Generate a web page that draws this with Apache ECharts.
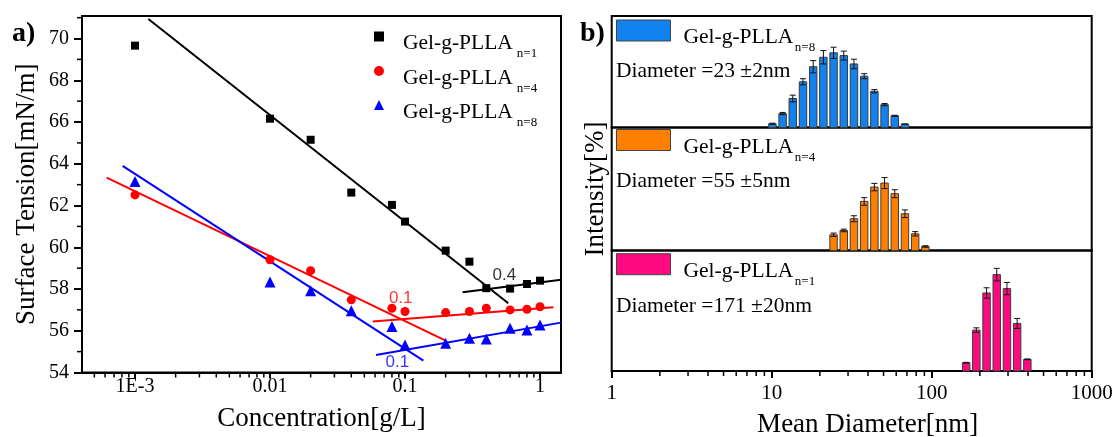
<!DOCTYPE html>
<html><head><meta charset="utf-8">
<script src="https://cdn.jsdelivr.net/npm/echarts@6/dist/echarts.min.js"></script>
<style>html,body{margin:0;padding:0;background:#fff}#c{width:1115px;height:437px}</style>
</head><body><div id="c"></div><script>
// ---------- Panel a) surface tension ----------
const CONC = [0.001, 0.01, 0.02, 0.04, 0.08, 0.1, 0.2, 0.3, 0.4, 0.6, 0.8, 1];
const ST_N1 = [69.66, 66.16, 65.15, 62.62, 62.03, 61.23, 59.84, 59.31, 58.04, 58.02, 58.24, 58.4];
const ST_N4 = [62.51, 59.4, 58.88, 57.48, 57.08, 56.92, 56.87, 56.92, 57.08, 57.0, 57.03, 57.15];
const ST_N8 = [63.15, 58.33, 57.92, 56.96, 56.2, 55.32, 55.4, 55.64, 55.6, 56.12, 56.04, 56.28];
const FIT_N1_A = [[1.256e-3, 70.94], [0.582, 57.32]];
const FIT_N1_B = [[0.267, 57.85], [1.43, 58.44]];
const FIT_N4_A = [[6.17e-4, 63.34], [0.2, 55.53]];
const FIT_N4_B = [[0.0577, 56.44], [1.256, 57.13]];
const FIT_N8_A = [[8.1e-4, 63.9], [0.1368, 54.57]];
const FIT_N8_B = [[0.061, 54.84], [1.43, 56.39]];
const ANNOT_POS = [[0.545, 58.68], [0.0929, 57.56], [0.0877, 54.47]];
const ANNOT_TEXT = ['0.4', '0.1', '0.1'];
const X_MIN = 4.05e-4, X_MAX = 1.43;
const X_MAJOR = [0.001, 0.01, 0.1, 1];
const X_LABELS = ['1E-3', '0.01', '0.1', '1'];
const Y_MIN = 54, Y_MAX = 71.08;
const Y_MAJOR = [54, 56, 58, 60, 62, 64, 66, 68, 70];
const Y_MINOR = [55, 57, 59, 61, 63, 65, 67, 69, 71];
const NAMES_A = ['Gel-g-PLLA n=1', 'Gel-g-PLLA n=4', 'Gel-g-PLLA n=8'];

// ---------- Panel b) DLS size distribution ----------
const BINS_N8 = [10.1, 11.7, 13.54, 15.69, 18.17, 21.04, 24.36, 28.21, 32.67, 37.84, 43.82, 50.75, 58.77, 68.06];
const INT_N8 = [0.67, 2.5, 5.2, 8.2, 10.9, 12.6, 13.4, 12.9, 11.4, 9.2, 6.5, 4.1, 2.1, 0.6];
const ERR_N8 = [0.1, 0.2, 0.6, 0.55, 1.1, 1.2, 1.0, 0.8, 0.85, 0.45, 0.3, 0.2, 0.1, 0];
const BINS_N4 = [24.36, 28.21, 32.67, 37.84, 43.82, 50.75, 58.77, 68.06, 78.82, 91.28];
const INT_N4 = [4.35, 5.54, 8.78, 13.57, 17.53, 18.64, 15.7, 10.16, 4.62, 1.11];
const ERR_N4 = [0.47, 0.36, 0.83, 1.05, 1.02, 1.52, 1.1, 1.05, 0.6, 0.2];
const BINS_N1 = [164.2, 190.1, 220.2, 255.0, 295.3, 342.0, 396.1];
const INT_N1 = [2.27, 11.19, 21.37, 26.39, 22.57, 13.02, 3.19];
const ERR_N1 = [0.1, 0.63, 1.42, 1.72, 1.69, 1.37, 0.1];
const PANEL_YMAX = [20, 34, 33];
const NAMES_B = ['DLS Gel-g-PLLA n=8', 'DLS Gel-g-PLLA n=4', 'DLS Gel-g-PLLA n=1'];
const DIAM_TEXT = ['Diameter =23 \u00b12nm', 'Diameter =55 \u00b15nm', 'Diameter =171 \u00b120nm'];
const D_MIN = 1, D_MAX = 1000;
const D_MAJOR = [1, 10, 100, 1000];
const D_LABELS = ['1', '10', '100', '1000'];

function minorLog(lo, hi) {
  const out = [];
  for (let d = Math.floor(Math.log10(lo)); d < Math.ceil(Math.log10(hi)); d++) {
    for (let k = 2; k <= 9; k++) { const v = k * Math.pow(10, d); if (v > lo && v < hi) out.push(+v.toPrecision(6)); }
  }
  return out;
}
const X_MINOR = minorLog(X_MIN, X_MAX);
const D_MINOR = minorLog(D_MIN, D_MAX);

const SERIF = 'Liberation Serif', SANS = 'Liberation Sans';
const BAR_F = 1.055;
const MINOR_LEN = 5;

function richFor(padL, subPad) {
  return {
    m: { fontFamily: SERIF, fontSize: 21.5, color: '#000', lineHeight: 22, padding: [7, 0, 0, padL], verticalAlign: 'top' },
    s: { fontFamily: SERIF, fontSize: 13, color: '#000', lineHeight: 14, padding: [22, 0, 0, subPad], verticalAlign: 'top' }
  };
}
function legendFmt(name) {
  const parts = name.replace(/^DLS /, '').split(' ');
  return '{m|' + parts[0] + '}{s|' + parts[1] + '}';
}
function pickLabel(ticks, labels) {
  return v => labels[ticks.findIndex(t => Math.abs(Math.log10(t / v)) < 1e-6)];
}

function barItem(params, api) {
  const x = api.value(0), y = api.value(1), e = api.value(2);
  const p0 = api.coord([x / BAR_F, 0]);
  const p1 = api.coord([x * BAR_F, y]);
  const cx = api.coord([x, y])[0];
  const hi = api.coord([x, y + e])[1], lo = api.coord([x, Math.max(0, y - e)])[1];
  const st = api.style();
  return { type: 'group', children: [
    { type: 'rect', shape: { x: p0[0], y: p1[1], width: p1[0] - p0[0], height: p0[1] - p1[1] },
      style: { fill: st.fill, stroke: '#3c3c3c', lineWidth: 1 } },
    { type: 'line', shape: { x1: cx, y1: hi, x2: cx, y2: lo }, style: { stroke: '#111', lineWidth: 1 } },
    { type: 'line', shape: { x1: cx - 3, y1: hi, x2: cx + 3, y2: hi }, style: { stroke: '#111', lineWidth: 1 } },
    { type: 'line', shape: { x1: cx - 3, y1: lo, x2: cx + 3, y2: lo }, style: { stroke: '#111', lineWidth: 1 } }
  ]};
}
// minor tick marks: each item is [x, y] on the axis line, drawn through the axis scales
function xMinorTick(params, api) {
  const p = api.coord([api.value(0), api.value(1)]);
  return { type: 'rect', shape: { x: p[0] - 0.75, y: p[1], width: 1.5, height: MINOR_LEN },
    style: { fill: '#000' } };
}
function yMinorTick(params, api) {
  const p = api.coord([api.value(0), api.value(1)]);
  return { type: 'rect', shape: { x: p[0] - MINOR_LEN, y: p[1] - 0.75, width: MINOR_LEN, height: 1.5 },
    style: { fill: '#000' } };
}

const chart = echarts.init(document.getElementById('c'), null, { renderer: 'canvas' });
const gridBase = { show: true, borderColor: '#000', borderWidth: 2, backgroundColor: 'transparent', outerBoundsMode: 'none', containLabel: false };
const PANEL_TOPS = [16, 127.5, 250.5];
const PANEL_H = [111.5, 123, 120.5];
const nameStyle = { fontFamily: SERIF, fontSize: 27, color: '#000' };
const hiddenX = (gi) => ({ gridIndex: gi, type: 'log', min: D_MIN, max: D_MAX, show: false });

const option = {
  animation: false,
  backgroundColor: '#fff',
  grid: [
    Object.assign({ left: 82, top: 16, width: 479, height: 356.5 }, gridBase),
    Object.assign({ left: 611.7, top: PANEL_TOPS[0], width: 480, height: PANEL_H[0] }, gridBase),
    Object.assign({ left: 611.7, top: PANEL_TOPS[1], width: 480, height: PANEL_H[1] }, gridBase),
    Object.assign({ left: 611.7, top: PANEL_TOPS[2], width: 480, height: PANEL_H[2] }, gridBase)
  ],
  xAxis: [
    { gridIndex: 0, type: 'log', min: X_MIN, max: X_MAX, position: 'bottom',
      axisLine: { show: true, onZero: false, lineStyle: { color: '#000', width: 2 } },
      axisTick: { show: true, customValues: X_MAJOR, length: 6, lineStyle: { color: '#000', width: 2 } },
      axisLabel: { customValues: X_MAJOR, margin: 4, fontFamily: SERIF, fontSize: 20, color: '#000',
        formatter: pickLabel(X_MAJOR, X_LABELS) },
      splitLine: { show: false }, minorTick: { show: false },
      name: 'Concentration[g/L]', nameLocation: 'middle', nameGap: 33, nameTextStyle: nameStyle },
    hiddenX(1),
    hiddenX(2),
    { gridIndex: 3, type: 'log', min: D_MIN, max: D_MAX, position: 'bottom',
      axisLine: { show: true, onZero: false, lineStyle: { color: '#000', width: 2 } },
      axisTick: { show: true, customValues: D_MAJOR, length: 7, lineStyle: { color: '#000', width: 2 } },
      axisLabel: { customValues: D_MAJOR, margin: 12, fontFamily: SERIF, fontSize: 21, color: '#000',
        formatter: pickLabel(D_MAJOR, D_LABELS) },
      splitLine: { show: false }, minorTick: { show: false },
      name: 'Mean Diameter[nm]', nameLocation: 'middle', nameGap: 40,
      nameTextStyle: Object.assign({ padding: [0, 0, 0, 32] }, nameStyle) }
  ],
  yAxis: [
    { gridIndex: 0, type: 'value', min: Y_MIN, max: Y_MAX, position: 'left',
      axisLine: { show: true, onZero: false, lineStyle: { color: '#000', width: 2 } },
      axisTick: { show: true, customValues: Y_MAJOR, length: 8, lineStyle: { color: '#000', width: 2 } },
      axisLabel: { customValues: Y_MAJOR, margin: 13, fontFamily: SERIF, fontSize: 20, color: '#000' },
      splitLine: { show: false },
      name: 'Surface Tension[mN/m]', nameLocation: 'middle', nameGap: 42, nameRotate: 90, nameTextStyle: nameStyle },
    { gridIndex: 1, type: 'value', min: 0, max: PANEL_YMAX[0], show: false },
    { gridIndex: 2, type: 'value', min: 0, max: PANEL_YMAX[1], position: 'left',
      axisLine: { show: false }, axisTick: { show: false }, axisLabel: { show: false }, splitLine: { show: false },
      name: 'Intensity[%]', nameLocation: 'middle', nameGap: 2, nameRotate: 90, nameTextStyle: nameStyle },
    { gridIndex: 3, type: 'value', min: 0, max: PANEL_YMAX[2], show: false }
  ],
  legend: [
    ...NAMES_A.map((n, i) => ({
      data: [n], orient: 'vertical', left: 374, top: [43.5, 78, 112][i] - 18, padding: 0,
      itemWidth: 10, itemHeight: 10, selectedMode: false,
      itemStyle: { opacity: 1 },
      formatter: legendFmt, textStyle: { rich: richFor(14, 4) }
    })),
    ...NAMES_B.map((n, i) => ({
      data: [{ name: n, icon: 'rect' }], orient: 'vertical', left: 616, top: [19.5, 129, 253.2][i], padding: 0,
      itemWidth: 54, itemHeight: 21, selectedMode: false,
      itemStyle: { borderColor: '#444', borderWidth: 1 },
      formatter: legendFmt, textStyle: { rich: richFor(8, 1.5) }
    }))
  ],
  graphic: [
    { type: 'text', x: 12, y: 34, style: { text: 'a)', fontFamily: SERIF, fontSize: 28, fontWeight: 'bold', fill: '#000', verticalAlign: 'middle' } },
    { type: 'text', x: 580, y: 34, style: { text: 'b)', fontFamily: SERIF, fontSize: 28, fontWeight: 'bold', fill: '#000', verticalAlign: 'middle' } },
    ...DIAM_TEXT.map((t, i) => ({ type: 'text', x: 616, y: [71.7, 181.7, 306.7][i],
      style: { text: t, fontFamily: SERIF, fontSize: 21.5, fill: '#000', verticalAlign: 'middle' } }))
  ],
  series: [
    { name: NAMES_A[0], type: 'scatter', xAxisIndex: 0, yAxisIndex: 0, symbol: 'rect', symbolSize: 8,
      itemStyle: { color: '#000', opacity: 1 }, data: CONC.map((c, i) => [c, ST_N1[i]]), z: 5 },
    { name: NAMES_A[1], type: 'scatter', xAxisIndex: 0, yAxisIndex: 0, symbol: 'circle', symbolSize: 9,
      itemStyle: { color: '#ff0000', opacity: 1 }, data: CONC.map((c, i) => [c, ST_N4[i]]), z: 5 },
    { name: NAMES_A[2], type: 'scatter', xAxisIndex: 0, yAxisIndex: 0, symbol: 'triangle', symbolSize: 11,
      itemStyle: { color: '#0000ff', opacity: 1 }, data: CONC.map((c, i) => [c, ST_N8[i]]), z: 5 },
    ...[[FIT_N1_A, '#000'], [FIT_N1_B, '#000'], [FIT_N4_A, '#ff0000'], [FIT_N4_B, '#ff0000'], [FIT_N8_A, '#0000ff'], [FIT_N8_B, '#0000ff']]
      .map(([d, col]) => ({ type: 'line', xAxisIndex: 0, yAxisIndex: 0, data: d, symbol: 'none', silent: true,
        lineStyle: { color: col, width: 2 }, z: 3 })),
    { type: 'scatter', xAxisIndex: 0, yAxisIndex: 0, symbolSize: 0, silent: true, z: 6,
      data: ANNOT_POS.map((p, i) => ({ value: p, label: { color: ['#000', '#ff0000', '#0000ff'][i] } })),
      label: { show: true, position: 'inside', fontFamily: SANS, fontSize: 17,
        formatter: p => ANNOT_TEXT[p.dataIndex] } },
    // minor ticks
    { name: 'minorX', type: 'custom', xAxisIndex: 0, yAxisIndex: 0, clip: false, z: 8,
      renderItem: xMinorTick, encode: { x: 0, y: 1 }, data: X_MINOR.map(v => [v, Y_MIN]) },
    { name: 'minorY', type: 'custom', xAxisIndex: 0, yAxisIndex: 0, clip: false, z: 8,
      renderItem: yMinorTick, encode: { x: 0, y: 1 }, data: Y_MINOR.map(v => [X_MIN, v]) },
    { name: 'minorD', type: 'custom', xAxisIndex: 3, yAxisIndex: 3, clip: false, z: 8,
      renderItem: xMinorTick, encode: { x: 0, y: 1 }, data: D_MINOR.map(v => [v, 0]) },
    ...[[BINS_N8, INT_N8, ERR_N8, '#1282ee'], [BINS_N4, INT_N4, ERR_N4, '#ff8000'], [BINS_N1, INT_N1, ERR_N1, '#ff0a80']]
      .map(([b, v, e, col], i) => ({
        name: NAMES_B[i], type: 'custom', xAxisIndex: 1 + i, yAxisIndex: 1 + i,
        itemStyle: { color: col, borderColor: '#444', borderWidth: 1 },
        renderItem: barItem, encode: { x: 0, y: 1 },
        data: b.map((x, k) => [x, v[k], e[k]])
      }))
  ]
};
chart.setOption(option);
</script></body></html>
